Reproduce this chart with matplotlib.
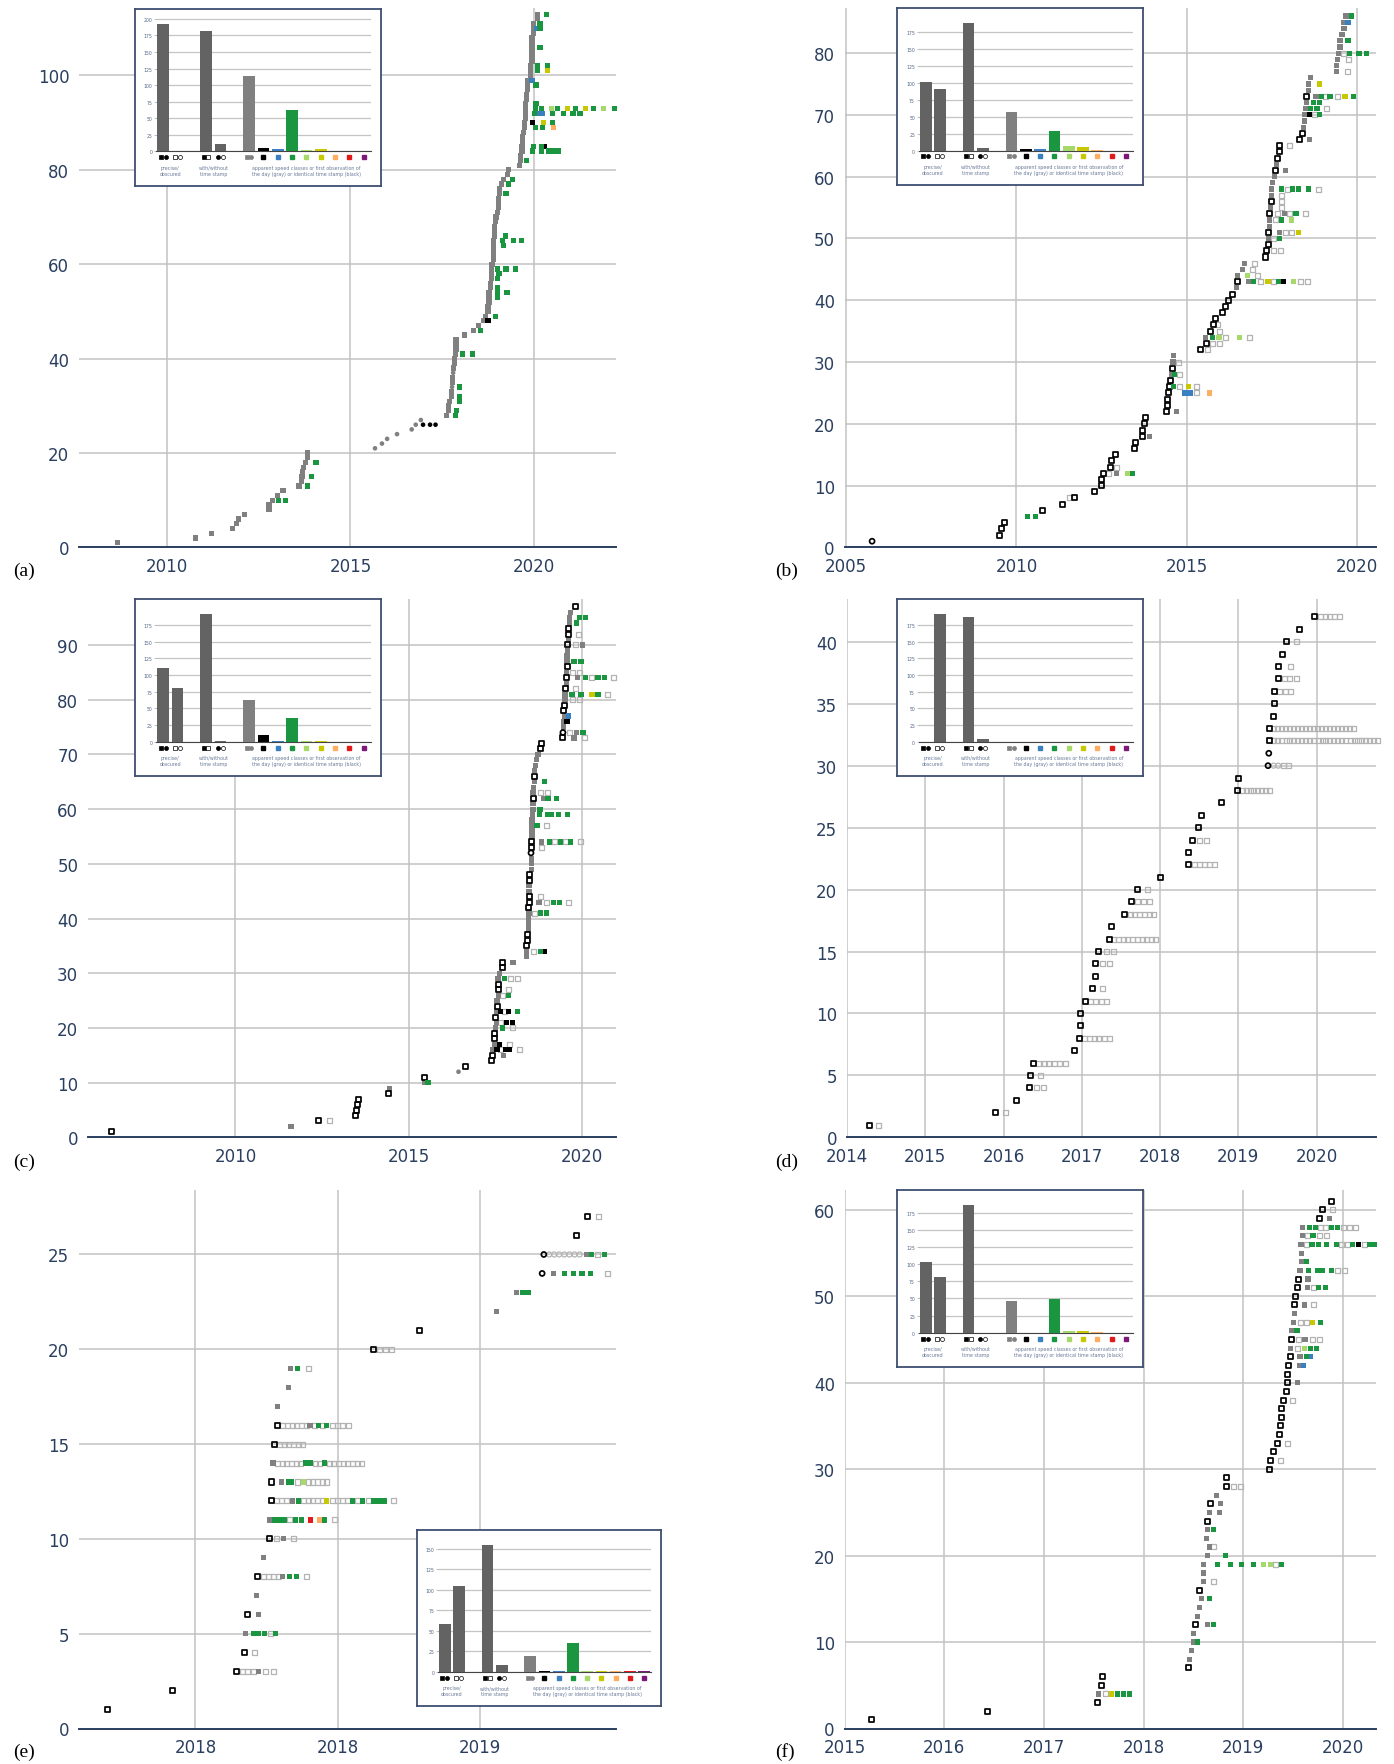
import matplotlib as mpl
mpl.use('Agg')
import matplotlib.pyplot as plt

W, H = 1394, 1765

# rows: (sighting number, observation years, kind letter for each observation)
# g gray sq, c gray dot, k black sq, d black dot, O open black sq, o open gray sq,
# Q open black circle, q open gray circle, B/G/L/Y/R/X/P speed classes
rows_a = [
    (1, [2008.66], 'g'), (2, [2010.78], 'g'), (3, [2011.21], 'g'), (4, [2011.78], 'g'),
    (5, [2011.89], 'g'), (6, [2011.94], 'g'), (7, [2012.12], 'g'), (8, [2012.78], 'g'),
    (9, [2012.78], 'g'), (10, [2012.87, 2013.03, 2013.24], 'gGG'), (11, [2013.01], 'g'),
    (12, [2013.16], 'g'), (13, [2013.6, 2013.84], 'gG'), (14, [2013.66], 'g'),
    (15, [2013.68, 2013.93], 'gG'), (16, [2013.7], 'g'), (17, [2013.73], 'g'),
    (18, [2013.77, 2014.06], 'gG'), (19, [2013.84], 'g'), (20, [2013.84], 'g'),
    (21, [2015.67], 'c'), (22, [2015.86], 'c'), (23, [2016.0], 'c'), (24, [2016.27], 'c'),
    (25, [2016.67], 'c'), (26, [2016.78, 2016.98, 2017.17, 2017.32], 'cddd'),
    (27, [2016.92], 'c'), (28, [2017.61, 2017.87], 'gG'), (29, [2017.68, 2017.9], 'gG'),
    (30, [2017.68], 'g'), (31, [2017.71, 2017.98], 'gG'), (32, [2017.76, 2017.98], 'gG'),
    (33, [2017.76], 'g'), (34, [2017.77, 2017.98], 'cG'), (35, [2017.79], 'g'),
    (36, [2017.79], 'g'), (37, [2017.8], 'c'), (38, [2017.81], 'g'), (39, [2017.83], 'g'),
    (40, [2017.83], 'g'), (41, [2017.86, 2018.05, 2018.32], 'gGG'), (42, [2017.88], 'g'),
    (43, [2017.88], 'g'), (44, [2017.88], 'g'), (45, [2018.1], 'g'),
    (46, [2018.35, 2018.54], 'gG'), (47, [2018.5], 'g'), (48, [2018.62, 2018.75], 'gk'),
    (49, [2018.68, 2018.95], 'gG'), (50, [2018.75], 'g'), (51, [2018.75], 'g'),
    (52, [2018.78], 'g'), (53, [2018.78, 2019.02], 'gG'),
    (54, [2018.78, 2019.02, 2019.27], 'gGG'), (55, [2018.81, 2019.02], 'gG'),
    (56, [2018.81], 'g'), (57, [2018.84, 2019.02], 'gG'), (58, [2018.84, 2019.05], 'gG'),
    (59, [2018.84, 2019.02, 2019.24, 2019.51], 'gGGG'), (60, [2018.86], 'g'),
    (61, [2018.89], 'g'), (62, [2018.89], 'g'), (63, [2018.89], 'g'),
    (64, [2018.89, 2019.17], 'gG'), (65, [2018.89, 2019.14, 2019.44, 2019.66], 'gGGG'),
    (66, [2018.92, 2019.22], 'gG'), (67, [2018.92], 'g'), (68, [2018.92], 'g'),
    (69, [2018.95], 'g'), (70, [2018.97], 'g'), (71, [2019.0], 'g'), (72, [2019.03], 'g'),
    (73, [2019.03], 'g'), (74, [2019.03], 'g'), (75, [2019.06, 2019.24], 'gG'),
    (76, [2019.06], 'g'), (77, [2019.11, 2019.3], 'gG'), (78, [2019.17, 2019.41], 'gG'),
    (79, [2019.28], 'g'), (80, [2019.3], 'g'), (81, [2019.6], 'g'),
    (82, [2019.63, 2019.8], 'gG'), (83, [2019.63], 'g'),
    (84, [2019.68, 2019.96, 2020.2, 2020.39, 2020.53, 2020.66], 'gGGGGG'),
    (85, [2019.68, 2019.98, 2020.2, 2020.28], 'gGGk'), (86, [2019.7], 'g'),
    (87, [2019.7], 'g'), (88, [2019.72], 'g'),
    (89, [2019.75, 2020.04, 2020.23, 2020.53], 'gGGR'),
    (90, [2019.75, 2019.96, 2020.26, 2020.5], 'gkYG'), (91, [2019.77], 'g'),
    (92, [2019.77, 2020.02, 2020.14, 2020.22, 2020.5, 2020.8, 2021.07, 2021.26], 'gGBBGGGG'),
    (93, [2019.77, 2020.04, 2020.2, 2020.48, 2020.64, 2020.91, 2021.13, 2021.4, 2021.62,
          2021.89, 2022.19], 'gGGLGYGYGLG'),
    (94, [2019.77, 2020.06], 'gG'), (95, [2019.8], 'g'), (96, [2019.8], 'g'),
    (97, [2019.83], 'g'), (98, [2019.83, 2020.06], 'gG'), (99, [2019.83, 2019.95], 'gB'),
    (100, [2019.9], 'g'), (101, [2019.9, 2020.1, 2020.38], 'gGY'),
    (102, [2019.9, 2020.1, 2020.38], 'gGG'), (103, [2019.95], 'g'), (104, [2019.95], 'g'),
    (105, [2019.95], 'g'), (106, [2019.95, 2020.17], 'gG'), (107, [2019.95], 'g'),
    (108, [2019.95], 'g'), (109, [2019.98], 'g'), (110, [2019.98, 2020.08, 2020.17], 'gBG'),
    (111, [2019.98, 2020.17], 'gG'), (112, [2020.1], 'g'), (113, [2020.1, 2020.35], 'gG'),
]

rows_b = [
    (1, [2005.76], 'Q'), (2, [2009.5], 'O'), (3, [2009.55], 'O'), (4, [2009.65], 'O'),
    (5, [2010.33, 2010.56], 'GG'), (6, [2010.76], 'O'), (7, [2011.35], 'O'),
    (8, [2011.55, 2011.7], 'oO'), (9, [2012.3], 'O'), (10, [2012.5], 'O'), (11, [2012.5], 'O'),
    (12, [2012.55, 2012.7, 2012.95, 2013.25, 2013.4], 'OogLG'), (13, [2012.75, 2012.95], 'Oo'),
    (14, [2012.8], 'O'), (15, [2012.9], 'O'), (16, [2013.48], 'O'), (17, [2013.5], 'O'),
    (18, [2013.7, 2013.9], 'Og'), (19, [2013.7], 'O'), (20, [2013.75], 'O'), (21, [2013.8], 'O'),
    (22, [2014.42, 2014.7], 'Og'), (23, [2014.45], 'O'), (24, [2014.45], 'O'),
    (25, [2014.48, 2014.93, 2015.1, 2015.3, 2015.66], 'OBBoR'),
    (26, [2014.5, 2014.62, 2014.8, 2015.05, 2015.3], 'OGoYo'), (27, [2014.52], 'O'),
    (28, [2014.55, 2014.65, 2014.8], 'gGo'), (29, [2014.58], 'O'), (30, [2014.6, 2014.75], 'go'),
    (31, [2014.62], 'g'), (32, [2015.4, 2015.6], 'Oo'), (33, [2015.57, 2015.75, 2015.95], 'Ooo'),
    (34, [2015.55, 2015.75, 2015.95, 2016.15, 2016.55, 2016.85], 'gGLoLo'),
    (35, [2015.7, 2015.95], 'Oo'), (36, [2015.8, 2015.9], 'Oo'), (37, [2015.85], 'O'),
    (38, [2016.05], 'O'), (39, [2016.15], 'O'), (40, [2016.22], 'O'), (41, [2016.36], 'O'),
    (42, [2016.47], 'g'),
    (43, [2016.5, 2016.81, 2016.96, 2017.18, 2017.39, 2017.55, 2017.69, 2017.84, 2018.13,
          2018.35, 2018.55], 'OgGoYoGkLoo'),
    (44, [2016.5, 2016.78, 2017.09], 'gLo'), (45, [2016.64, 2016.94], 'go'),
    (46, [2016.7, 2016.99], 'go'), (47, [2017.31], 'O'), (48, [2017.35, 2017.56, 2017.76], 'Ooo'),
    (49, [2017.39], 'O'), (50, [2017.4, 2017.56, 2017.72], 'goG'),
    (51, [2017.41, 2017.72, 2017.9, 2018.09, 2018.28], 'OgooY'), (52, [2017.43], 'g'),
    (53, [2017.43, 2017.61, 2017.78, 2018.09], 'goGL'),
    (54, [2017.44, 2017.66, 2017.87, 2018.03, 2018.21, 2018.48], 'OogoGo'),
    (55, [2017.46, 2017.77], 'go'), (56, [2017.49, 2017.77], 'Oo'), (57, [2017.49, 2017.78], 'go'),
    (58, [2017.49, 2017.78, 2017.95, 2018.1, 2018.28, 2018.57, 2018.86], 'gGoGGGo'),
    (59, [2017.52], 'g'), (60, [2017.58], 'g'), (61, [2017.6, 2017.9], 'Og'), (62, [2017.64], 'g'),
    (63, [2017.67], 'O'), (64, [2017.74], 'O'), (65, [2017.74, 2018.03], 'Oo'),
    (66, [2018.32, 2018.6], 'Og'), (67, [2018.41], 'O'), (68, [2018.42], 'g'), (69, [2018.45], 'g'),
    (70, [2018.45, 2018.6, 2018.75, 2018.89], 'gkoG'),
    (71, [2018.48, 2018.63, 2018.83, 2019.11], 'gGGo'), (72, [2018.51, 2018.72, 2018.91], 'gGG'),
    (73, [2018.52, 2018.8, 2018.95, 2019.09, 2019.21, 2019.43, 2019.65, 2019.91], 'OgGoGoYG'),
    (74, [2018.57], 'g'), (75, [2018.57, 2018.89], 'gY'), (76, [2018.63], 'g'),
    (77, [2019.41, 2019.71], 'go'), (78, [2019.41], 'g'), (79, [2019.44, 2019.76], 'go'),
    (80, [2019.47, 2019.62, 2019.77, 2020.06, 2020.29], 'goGGG'), (81, [2019.5], 'g'),
    (82, [2019.5, 2019.74], 'gG'), (83, [2019.56], 'g'), (84, [2019.62], 'g'),
    (85, [2019.61, 2019.74], 'gB'), (86, [2019.68, 2019.85], 'gG'),
]

rows_c = [
    (1, [2006.43], 'O'), (2, [2011.6], 'g'), (3, [2012.4, 2012.7], 'Oo'), (4, [2013.47], 'O'),
    (5, [2013.5], 'O'), (6, [2013.52], 'O'), (7, [2013.55], 'O'), (8, [2014.4], 'O'),
    (9, [2014.45], 'g'), (10, [2015.45, 2015.55], 'gG'), (11, [2015.45], 'O'), (12, [2016.43], 'c'),
    (13, [2016.63], 'O'), (14, [2017.38], 'O'), (15, [2017.41, 2017.72], 'Og'),
    (16, [2017.42, 2017.54, 2017.64, 2017.78, 2017.85, 2017.9, 2018.19], 'gkokkko'),
    (17, [2017.46, 2017.61, 2017.9], 'gko'), (18, [2017.46], 'O'), (19, [2017.46], 'O'),
    (20, [2017.49, 2017.69, 2017.98], 'gGo'), (21, [2017.52, 2017.64, 2017.81, 2017.98], 'gokk'),
    (22, [2017.51], 'O'), (23, [2017.52, 2017.63, 2017.75, 2017.87, 2018.12], 'gkokG'),
    (24, [2017.54], 'O'), (25, [2017.54], 'g'), (26, [2017.58, 2017.71, 2017.87], 'goG'),
    (27, [2017.57, 2017.88], 'Oo'), (28, [2017.58], 'O'),
    (29, [2017.57, 2017.75, 2017.93, 2018.14], 'gGoo'), (30, [2017.61], 'g'),
    (31, [2017.69], 'O'), (32, [2017.69, 2018.0], 'Og'), (33, [2018.38], 'g'),
    (34, [2018.4, 2018.6, 2018.79, 2018.9], 'goGk'), (35, [2018.4], 'O'), (36, [2018.42], 'O'),
    (37, [2018.43], 'O'), (38, [2018.44], 'g'), (39, [2018.44], 'g'), (40, [2018.44], 'g'),
    (41, [2018.46, 2018.62, 2018.79, 2018.96], 'goGG'), (42, [2018.46], 'O'),
    (43, [2018.47, 2018.75, 2018.96, 2019.16, 2019.34, 2019.61], 'OgoGGo'),
    (44, [2018.47, 2018.8], 'Oo'), (45, [2018.46], 'g'), (46, [2018.46], 'g'),
    (47, [2018.48], 'O'), (48, [2018.48], 'O'), (49, [2018.53], 'g'), (50, [2018.53], 'g'),
    (51, [2018.53], 'g'), (52, [2018.52], 'Q'), (53, [2018.53, 2018.83], 'Oo'),
    (54, [2018.54, 2018.82, 2019.05, 2019.2, 2019.37, 2019.51, 2019.65, 2019.95], 'OgGoGoGo'),
    (55, [2018.55], 'g'), (56, [2018.55], 'g'), (57, [2018.55, 2018.69, 2018.96], 'gGo'),
    (58, [2018.55], 'g'), (59, [2018.56, 2018.76, 2019.01, 2019.11, 2019.31, 2019.57], 'gGGGGG'),
    (60, [2018.58, 2018.78], 'gG'), (61, [2018.58], 'g'),
    (62, [2018.58, 2018.87, 2019.01, 2019.25], 'OgGG'), (63, [2018.58, 2018.8, 2018.99], 'goo'),
    (64, [2018.6], 'g'), (65, [2018.61, 2018.9], 'gG'), (66, [2018.63], 'O'), (67, [2018.63], 'g'),
    (68, [2018.64], 'g'), (69, [2018.67], 'g'), (70, [2018.72], 'g'), (71, [2018.8], 'O'),
    (72, [2018.82], 'O'), (73, [2019.43, 2019.76, 2020.07], 'Ogo'),
    (74, [2019.44, 2019.63, 2019.82, 2020.02], 'QogG'), (75, [2019.45], 'g'),
    (76, [2019.45, 2019.56], 'gk'), (77, [2019.48, 2019.6], 'gB'), (78, [2019.47], 'O'),
    (79, [2019.49], 'O'), (80, [2019.5, 2019.71, 2019.92], 'goo'),
    (81, [2019.5, 2019.7, 2019.96, 2020.28, 2020.45, 2020.73], 'gGGYGo'),
    (82, [2019.52, 2019.8], 'Oo'), (83, [2019.54], 'g'),
    (84, [2019.54, 2019.85, 2020.08, 2020.27, 2020.45, 2020.63, 2020.91], 'OgGoGGo'),
    (85, [2019.54, 2019.73, 2019.91], 'goo'), (86, [2019.56], 'O'),
    (87, [2019.56, 2019.76, 2019.96], 'gGG'), (88, [2019.56], 'g'), (89, [2019.58], 'g'),
    (90, [2019.58, 2019.79, 2020.0], 'Oog'), (91, [2019.59], 'g'), (92, [2019.61, 2019.89], 'Oo'),
    (93, [2019.61], 'O'), (94, [2019.63, 2019.82], 'gG'), (95, [2019.63, 2019.91, 2020.1], 'gGG'),
    (96, [2019.67], 'g'), (97, [2019.81], 'O'),
]

rows_d = [
    (1, [2014.29, 2014.4], 'Oo'), (2, [2015.9, 2016.03], 'Oo'), (3, [2016.17], 'O'),
    (4, [2016.33, 2016.42, 2016.51], 'Ooo'), (5, [2016.34, 2016.47], 'Oo'),
    (6, [2016.38, 2016.45, 2016.52, 2016.58, 2016.65, 2016.72, 2016.79], 'Ooooooo'),
    (7, [2016.91], 'O'),
    (8, [2016.97, 2017.03, 2017.1, 2017.16, 2017.22, 2017.29, 2017.35], 'Ooooooo'),
    (9, [2016.98], 'O'), (10, [2016.99], 'O'),
    (11, [2017.05, 2017.11, 2017.18, 2017.25, 2017.32], 'Ooooo'), (12, [2017.14, 2017.27], 'Oo'),
    (13, [2017.18], 'O'), (14, [2017.18, 2017.27, 2017.36], 'Ooo'),
    (15, [2017.22, 2017.31, 2017.4], 'Ooo'),
    (16, [2017.36, 2017.41, 2017.47, 2017.53, 2017.59, 2017.65, 2017.71, 2017.77, 2017.83,
          2017.89, 2017.94], 'Ooooooooooo'),
    (17, [2017.38], 'O'),
    (18, [2017.55, 2017.62, 2017.68, 2017.74, 2017.8, 2017.86, 2017.92, 2017.98], 'Ooooooo'),
    (19, [2017.64, 2017.71, 2017.79, 2017.86], 'Oooo'), (20, [2017.71, 2017.84], 'Oo'),
    (21, [2018.0], 'O'), (22, [2018.36, 2018.44, 2018.5, 2018.57, 2018.63, 2018.7], 'Oooooo'),
    (23, [2018.37], 'O'), (24, [2018.41, 2018.5, 2018.6], 'Ooo'), (25, [2018.49], 'O'),
    (26, [2018.53], 'O'), (27, [2018.78], 'O'),
    (28, [2018.99, 2019.05, 2019.1, 2019.15, 2019.2, 2019.25, 2019.3, 2019.35, 2019.4], 'Ooooooooo'),
    (29, [2019.0], 'O'), (30, [2019.38, 2019.45, 2019.51, 2019.58, 2019.64], 'Qqqoo'),
    (31, [2019.39], 'Q'),
    (32, [2019.40, 2019.45, 2019.50, 2019.55, 2019.61, 2019.66, 2019.71, 2019.76, 2019.81,
          2019.86, 2019.91, 2019.96, 2020.02, 2020.07, 2020.12, 2020.17, 2020.22, 2020.27,
          2020.32, 2020.37, 2020.43, 2020.48, 2020.53, 2020.58, 2020.63, 2020.68, 2020.73,
          2020.78], 'O' + 'o' * 27),
    (33, [2019.40, 2019.45, 2019.50, 2019.55, 2019.60, 2019.66, 2019.71, 2019.76, 2019.81,
          2019.86, 2019.91, 2019.96, 2020.01, 2020.06, 2020.12, 2020.17, 2020.22, 2020.27,
          2020.32, 2020.37, 2020.42, 2020.47], 'O' + 'o' * 21),
    (34, [2019.45], 'O'), (35, [2019.46], 'O'),
    (36, [2019.46, 2019.53, 2019.6, 2019.67], 'Oooo'),
    (37, [2019.52, 2019.59, 2019.66, 2019.74], 'Oooo'), (38, [2019.52, 2019.67], 'Oo'),
    (39, [2019.56], 'O'), (40, [2019.62, 2019.74], 'Oo'), (41, [2019.78], 'O'),
    (42, [2019.98, 2020.05, 2020.11, 2020.17, 2020.23, 2020.29, 2020.35], 'Oooooo'),
]

rows_e = [
    (1, [2017.69], 'O'), (2, [2017.92], 'O'),
    (3, [2018.145, 2018.165, 2018.184, 2018.203, 2018.223, 2018.248, 2018.273], 'Oooogoo'),
    (4, [2018.172, 2018.206], 'Oo'),
    (5, [2018.177, 2018.205, 2018.223, 2018.243, 2018.263, 2018.281], 'gGGGoG'),
    (6, [2018.184, 2018.223], 'Og'), (7, [2018.216], 'g'),
    (8, [2018.219, 2018.238, 2018.256, 2018.273, 2018.291, 2018.307, 2018.332, 2018.356,
         2018.392], 'OoooogGGo'),
    (9, [2018.24], 'g'), (10, [2018.26, 2018.284, 2018.311, 2018.345], 'Oogo'),
    (11, [2018.261, 2018.279, 2018.297, 2018.313, 2018.332, 2018.353, 2018.374, 2018.405,
          2018.436, 2018.455, 2018.49], 'gGGGoGGXRGo'),
    (12, [2018.266, 2018.285, 2018.304, 2018.322, 2018.342, 2018.362, 2018.38, 2018.396,
          2018.413, 2018.429, 2018.446, 2018.462, 2018.481, 2018.499, 2018.516, 2018.534,
          2018.554, 2018.571, 2018.589, 2018.608, 2018.628, 2018.649, 2018.665, 2018.697],
     'OooogGoooooYooooGoGoGGGo'),
    (13, [2018.268, 2018.304, 2018.327, 2018.338, 2018.359, 2018.381, 2018.396, 2018.413,
          2018.429, 2018.446, 2018.462], 'OgGGoLooooo'),
    (14, [2018.273, 2018.288, 2018.305, 2018.321, 2018.338, 2018.354, 2018.37, 2018.387,
          2018.405, 2018.421, 2018.437, 2018.454, 2018.47, 2018.487, 2018.503, 2018.52,
          2018.536, 2018.553, 2018.569, 2018.585], 'gooooooGGooGoooooooo'),
    (15, [2018.279, 2018.297, 2018.312, 2018.328, 2018.345, 2018.361, 2018.378], 'Oooooo' + 'o'),
    (16, [2018.288, 2018.307, 2018.324, 2018.34, 2018.356, 2018.373, 2018.39, 2018.403,
          2018.419, 2018.433, 2018.447, 2018.462, 2018.481, 2018.5, 2018.519, 2018.537],
     'OoooooogoGoGoooo'),
    (17, [2018.289], 'g'), (18, [2018.328], 'g'), (19, [2018.334, 2018.36, 2018.397], 'gGo'),
    (20, [2018.625, 2018.647, 2018.668, 2018.69], 'Oooo'), (21, [2018.79], 'O'),
    (22, [2019.06], 'g'), (23, [2019.13, 2019.15, 2019.17], 'gGG'),
    (24, [2019.22, 2019.26, 2019.3, 2019.33, 2019.36, 2019.39, 2019.45], 'QgGGGGo'),
    (25, [2019.226, 2019.245, 2019.262, 2019.28, 2019.298, 2019.316, 2019.334, 2019.352,
          2019.375, 2019.395, 2019.415, 2019.44], 'QqqqqqqqgGoG'),
    (26, [2019.34], 'O'), (27, [2019.38, 2019.42], 'Oo'),
]

rows_f = [
    (1, [2015.27], 'O'), (2, [2016.43], 'O'), (3, [2017.54], 'O'),
    (4, [2017.55, 2017.62, 2017.68, 2017.74, 2017.8, 2017.86], 'goYGGG'),
    (5, [2017.58], 'O'), (6, [2017.59], 'O'), (7, [2018.45], 'O'), (8, [2018.46], 'g'),
    (9, [2018.48], 'g'), (10, [2018.5, 2018.54], 'gG'), (11, [2018.5], 'g'),
    (12, [2018.52, 2018.64, 2018.7], 'OgG'), (13, [2018.54], 'g'), (14, [2018.56], 'g'),
    (15, [2018.58, 2018.66], 'gG'), (16, [2018.56], 'O'), (17, [2018.6, 2018.7], 'go'),
    (18, [2018.6], 'g'),
    (19, [2018.6, 2018.74, 2018.87, 2018.98, 2019.1, 2019.2, 2019.27, 2019.32, 2019.38], 'gGGGGLLoG'),
    (20, [2018.64, 2018.82], 'gG'), (21, [2018.66, 2018.7], 'go'), (22, [2018.63], 'g'),
    (23, [2018.64, 2018.7], 'gG'), (24, [2018.64], 'O'), (25, [2018.66, 2018.76], 'gg'),
    (26, [2018.67, 2018.77], 'Og'), (27, [2018.73], 'g'),
    (28, [2018.827, 2018.897, 2018.967], 'Ooo'), (29, [2018.834], 'O'), (30, [2019.259], 'O'),
    (31, [2019.276, 2019.369], 'Oo'), (32, [2019.302], 'O'), (33, [2019.342, 2019.439], 'Oo'),
    (34, [2019.365], 'O'), (35, [2019.369], 'O'), (36, [2019.385], 'O'), (37, [2019.385], 'O'),
    (38, [2019.399, 2019.495], 'Oo'), (39, [2019.429], 'O'), (40, [2019.439, 2019.542], 'Og'),
    (41, [2019.442], 'O'), (42, [2019.455, 2019.561, 2019.601], 'OgB'),
    (43, [2019.468, 2019.568, 2019.635, 2019.675], 'OgGB'),
    (44, [2019.472, 2019.542, 2019.611, 2019.671, 2019.731], 'goLGG'),
    (45, [2019.485, 2019.555, 2019.618, 2019.694, 2019.764], 'Oogoo'),
    (46, [2019.488, 2019.538], 'gG'),
    (47, [2019.502, 2019.568, 2019.631, 2019.691, 2019.771], 'gooYG'), (48, [2019.512], 'g'),
    (49, [2019.515, 2019.611, 2019.708], 'Ogo'), (50, [2019.525], 'O'),
    (51, [2019.542, 2019.641, 2019.701, 2019.757, 2019.821], 'OgoGG'),
    (52, [2019.548, 2019.648], 'Og'),
    (53, [2019.568, 2019.651, 2019.741, 2019.797, 2019.88, 2019.947, 2020.013], 'gGGGGoo'),
    (54, [2019.581, 2019.631], 'gG'), (55, [2019.581], 'g'),
    (56, [2019.578, 2019.635, 2019.688, 2019.757, 2019.837, 2019.93, 2019.983, 2020.043,
          2020.096, 2020.156, 2020.213, 2020.266, 2020.316], 'goGGGGooGkoGG'),
    (57, [2019.591, 2019.641, 2019.698, 2019.764, 2019.834], 'goGoo'),
    (58, [2019.591, 2019.661, 2019.721, 2019.774, 2019.827, 2019.887, 2019.947, 2020.003,
          2020.063, 2020.123], 'gGGooGGooo'),
    (59, [2019.767, 2019.867], 'Og'), (60, [2019.794, 2019.894], 'Oo'), (61, [2019.887], 'O'),
]

# inset bar counts: precise, obscured, with, without time stamp, gray, black, blue,
# green, light green, yellow, orange, red, purple
bars_a = [192, 0, 181, 11, 113, 5, 4, 62, 2, 3, 1, 0, 0]
bars_b = [101, 91, 188, 3, 57, 2, 2, 29, 7, 5, 1, 0, 0]
bars_c = [111, 81, 191, 1, 62, 10, 1, 35, 1, 1, 0, 0, 0]
bars_d = [0, 191, 187, 4, 0, 0, 0, 0, 0, 0, 0, 0, 0]
bars_e = [58, 104, 154, 8, 19, 1, 1, 35, 1, 1, 1, 1, 1]
bars_f = [104, 82, 186, 0, 46, 0, 0, 49, 3, 2, 1, 0, 0]

C = {'B': '#3a7fc0', 'G': '#1a9641', 'L': '#a6d96a', 'Y': '#c8c800',
     'R': '#fdae61', 'X': '#e31a1c', 'P': '#7b1a78'}
styles = {
    'o': ('s', 'none', '#b3b3b3', 13, 0.9),
    'q': ('o', 'none', '#b3b3b3', 13, 0.9),
    'g': ('s', '#808080', 'none', 14, 0),
    'c': ('o', '#808080', 'none', 11, 0),
    'k': ('s', 'black', 'none', 14, 0),
    'd': ('o', 'black', 'none', 11, 0),
    'O': ('s', 'none', 'black', 13, 1.25),
    'Q': ('o', 'none', 'black', 13, 1.25),
}
for key in C:
    styles[key] = ('s', C[key], 'none', 14, 0)

tick_color = '#2a3f5f'
fontsize = 12
plt.rcParams['font.family'] = ['DejaVu Sans']

fig = plt.figure(figsize=(W / 100, H / 100), dpi=100)


def add_px_axes(x0, y0, x1, y1):
    return fig.add_axes([x0 / W, 1 - y1 / H, (x1 - x0) / W, (y1 - y0) / H])


def draw_panel(rows, box, xlim, ylim, xticks, xlabels, yticks):
    ax = add_px_axes(*box)
    for key in styles:
        xs, ys = [], []
        for y, xv, kinds in rows:
            for x, k in zip(xv, kinds):
                if k == key:
                    xs.append(x)
                    ys.append(y)
        if not xs:
            continue
        m, fc, ec, s, lw = styles[key]
        ax.scatter(xs, ys, marker=m, s=s, facecolors=fc, edgecolors=ec,
                   linewidths=lw, zorder=3, clip_on=False)
    ax.set_xlim(xlim)
    ax.set_ylim(ylim)
    ax.set_xticks(xticks)
    ax.set_xticklabels(xlabels)
    ax.set_yticks(yticks)
    ax.grid(color='#c2c2c2', lw=1.1)
    ax.set_axisbelow(True)
    for s in ['top', 'right', 'left']:
        ax.spines[s].set_visible(False)
    ax.spines['bottom'].set_color('#2a3f5f')
    ax.spines['bottom'].set_linewidth(1.4)
    ax.spines['bottom'].set_zorder(4)
    ax.tick_params(length=0, labelcolor=tick_color, labelsize=fontsize, pad=7)
    return ax


def draw_inset(box, vals):
    x0, y0, x1, y1 = box
    frame = add_px_axes(*box)
    frame.set_xticks([])
    frame.set_yticks([])
    frame.set_facecolor('white')
    for s in frame.spines.values():
        s.set_color('#3d4e70')
        s.set_linewidth(1.3)
    frame.set_zorder(5)
    bw, bh = x1 - x0, y1 - y0
    ax = add_px_axes(x0 + 0.086 * bw, y0 + 0.055 * bh, x0 + 0.96 * bw, y0 + 0.806 * bh)
    ax.set_zorder(6)
    ax.patch.set_alpha(0)
    slots = [0, 1, 3, 4, 6, 7, 8, 9, 10, 11, 12, 13, 14]
    cols = ['#636363'] * 4 + ['#808080', 'black', C['B'], C['G'], C['L'], C['Y'],
                              C['R'], C['X'], C['P']]
    ax.bar(slots, vals, width=0.82, color=cols, zorder=3)
    top = max(vals) * 1.045
    ax.set_ylim(0, top)
    ax.set_xlim(-0.5, 14.5)
    ax.set_yticks(range(0, int(top) + 1, 25))
    ax.set_xticks([])
    ax.grid(axis='y', color='#c4c4c4', lw=0.9)
    ax.set_axisbelow(True)
    for s in ['top', 'right', 'left']:
        ax.spines[s].set_visible(False)
    ax.spines['bottom'].set_color('#444444')
    ax.spines['bottom'].set_linewidth(0.8)
    ax.tick_params(length=1.5, width=0.5, color='#aaaaaa', labelsize=3.3,
                   labelcolor='#506784', pad=1)
    tr = ax.get_xaxis_transform()
    sym = [(-0.18, 's', 'k', 'k'), (0.16, 'o', 'k', 'k'), (0.82, 's', 'w', 'k'), (1.16, 'o', 'w', 'k'),
           (2.82, 's', 'k', 'k'), (3.16, 's', 'w', 'k'), (3.82, 'o', 'k', 'k'), (4.16, 'o', 'w', 'k'),
           (5.82, 's', '#808080', '#808080'), (6.16, 'o', '#808080', '#808080')]
    for x, m, fc, ec in sym:
        ax.plot(x, -0.045, marker=m, ms=2.9, mfc=fc, mec=ec, mew=0.5,
                transform=tr, clip_on=False)
    for x, c in zip(slots[5:], cols[5:]):
        ax.plot(x, -0.045, marker='s', ms=2.9, mfc=c, mec=c, transform=tr, clip_on=False)
    kw = dict(transform=tr, ha='center', va='top', fontsize=3.4, color='#6a7a99',
              linespacing=1.25)
    ax.text(0.5, -0.1, 'precise/\nobscured', **kw)
    ax.text(3.5, -0.1, 'with/without\ntime stamp', **kw)
    ax.text(10.0, -0.1, 'apparent speed classes or first observation of\n'
            'the day (gray) or identical time stamp (black)', **kw)


years = lambda v: [str(int(t)) for t in v]

draw_panel(rows_a, (79, 9, 616, 548.4), (2007.6, 2022.24), (0, 114.3),
           [2010, 2015, 2020], years([2010, 2015, 2020]), range(0, 101, 20))
draw_inset((135, 9.7, 380.6, 186.7), bars_a)

draw_panel(rows_b, (844.5, 9, 1376, 548.4), (2004.95, 2020.56), (0, 87.3),
           [2005, 2010, 2015, 2020], years([2005, 2010, 2015, 2020]), range(0, 81, 10))
draw_inset((897.4, 9.0, 1142.9, 185.8), bars_b)

draw_panel(rows_c, (88, 600, 616, 1138.4), (2005.75, 2020.97), (0, 98.4),
           [2010, 2015, 2020], years([2010, 2015, 2020]), range(0, 91, 10))
draw_inset((135, 600, 380.6, 777), bars_c)

draw_panel(rows_d, (847, 600, 1376, 1138.4), (2014.0, 2020.76), (0, 43.45),
           range(2014, 2021), years(range(2014, 2021)), range(0, 41, 5))
draw_inset((897.4, 600, 1142.9, 777), bars_d)

draw_panel(rows_e, (79, 1191, 616, 1729.5), (2017.59, 2019.48), (0, 28.4),
           [2018.0, 2018.5, 2019.0], ['2018', '2018', '2019'], range(0, 26, 5))
draw_inset((416.6, 1531, 661, 1707), bars_e)

draw_panel(rows_f, (844.5, 1191, 1376, 1729.5), (2015.02, 2020.33), (0, 62.3),
           range(2015, 2021), years(range(2015, 2021)), range(0, 61, 10))
draw_inset((897.4, 1191, 1142.9, 1368), bars_f)

for lab, x, y in [('(a)', 13.5, 571), ('(b)', 774.7, 571), ('(c)', 13.5, 1162),
                  ('(d)', 774.7, 1162), ('(e)', 13.5, 1752), ('(f)', 774.7, 1752)]:
    fig.text(x / W, 1 - y / H, lab, ha='left', va='center', fontsize=14,
             family='Liberation Serif')

plt.savefig('out.png', dpi=100)
